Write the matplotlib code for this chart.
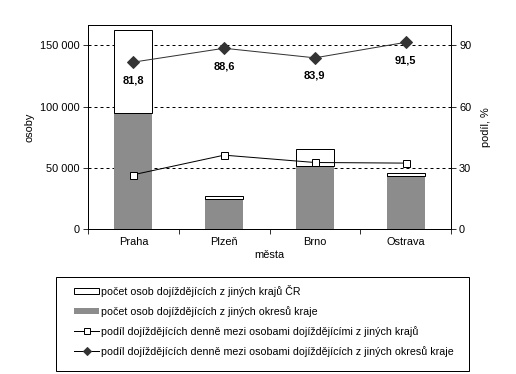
import matplotlib.pyplot as plt
import numpy as np
from matplotlib.patches import Patch, Rectangle
from matplotlib.lines import Line2D
from matplotlib.ticker import FuncFormatter

plt.rcParams['font.family'] = ['Liberation Sans', 'DejaVu Sans']
plt.rcParams['font.size'] = 11

mesta = ['Praha', 'Plzeň', 'Brno', 'Ostrava']
z_okresu = [95000, 24200, 51400, 43200]
z_kraju = [67800, 2500, 13600, 2500]
podil_kraje = [26.6, 36.2, 32.6, 32.3]
podil_okresy = [81.8, 88.6, 83.9, 91.5]

lab_kraje = 'počet osob dojíždějících z jiných krajů ČR'
lab_okresy = 'počet osob dojíždějících z jiných okresů kraje'
lab_podil_k = 'podíl dojíždějících denně mezi osobami dojíždějícími z jiných krajů'
lab_podil_o = 'podíl dojíždějících denně mezi osobami dojíždějících z jiných okresů kraje'

W, H = 516, 374
fig = plt.figure(figsize=(W / 72, H / 72), dpi=72)
ax = fig.add_axes([88 / W, 1 - 229 / H, 363 / W, 204 / H])
x = np.arange(len(mesta))

ax.bar(x, z_okresu, width=0.42, color='#8c8c8c', zorder=2)
ax.bar(x, z_kraju, width=0.42, bottom=z_okresu, color='white',
       edgecolor='black', linewidth=1, zorder=2)
ax.set_xlim(-0.5, 3.5)
ax.set_ylim(0, 150000 / 0.9)
ax.set_yticks([0, 50000, 100000, 150000])
ax.yaxis.set_major_formatter(FuncFormatter(lambda v, p: '{:,}'.format(int(v)).replace(',', ' ')))
for v in [50000, 100000, 150000]:
    ax.axhline(v, color='black', linestyle=(0, (3, 3)), linewidth=1, zorder=1)
ax.set_xticks([-0.5, 0.5, 1.5, 2.5, 3.5])
ax.set_xticklabels([])
ax.set_xticks(x, minor=True)
ax.set_xticklabels(mesta, minor=True)
ax.tick_params(axis='x', which='minor', length=0, pad=8)
ax.tick_params(axis='x', which='major', length=5, direction='out')
ax.tick_params(axis='y', length=5, direction='out', pad=3)
ax.set_xlabel('města', labelpad=3)
ax.set_ylabel('osoby', labelpad=6)

ax2 = ax.twinx()
ax2.set_ylim(0, 100)
ax2.set_yticks([0, 30, 60, 90])
ax2.tick_params(axis='y', length=5, direction='out', pad=3)
ax2.set_ylabel('podíl, %', labelpad=10)
ax2.plot(x, podil_kraje, color='black', linewidth=1, marker='s', markersize=7,
         markerfacecolor='white', markeredgecolor='black', zorder=3)
ax2.plot(x, podil_okresy, color='#333333', linewidth=1, marker='D', markersize=8,
         markerfacecolor='#333333', markeredgecolor='#333333', zorder=3)
for xi, v in zip(x, podil_okresy):
    ax2.annotate('{:.1f}'.format(v).replace('.', ','), (xi, v), xytext=(0, -18),
                 textcoords='offset points', ha='center', va='center',
                 fontweight='bold', fontsize=11)

for a in (ax, ax2):
    for s in a.spines.values():
        s.set_linewidth(1)
        s.set_color('black')

# legend frame drawn separately so the entries can be indented
fig.patches.append(Rectangle((56 / W, 1 - 371 / H), 413 / W, 94 / H,
                             transform=fig.transFigure, facecolor='white',
                             edgecolor='black', linewidth=1))
handles = [
    Patch(facecolor='white', edgecolor='black', linewidth=1),
    Patch(facecolor='#8c8c8c', edgecolor='none'),
    Line2D([], [], color='black', linewidth=1, marker='s', markersize=6,
           markerfacecolor='white', markeredgecolor='black'),
    Line2D([], [], color='black', linewidth=1, marker='D', markersize=5,
           markerfacecolor='#333333', markeredgecolor='#333333'),
]
leg = fig.legend(handles, [lab_kraje, lab_okresy, lab_podil_k, lab_podil_o],
                 loc='upper left', bbox_to_anchor=(74 / W, 1 - 285 / H),
                 frameon=False, borderpad=0, labelspacing=0.85, handlelength=2.4,
                 handleheight=0.45, handletextpad=0.15, borderaxespad=0, fontsize=10.6)

fig.savefig('out.png', dpi=72)
